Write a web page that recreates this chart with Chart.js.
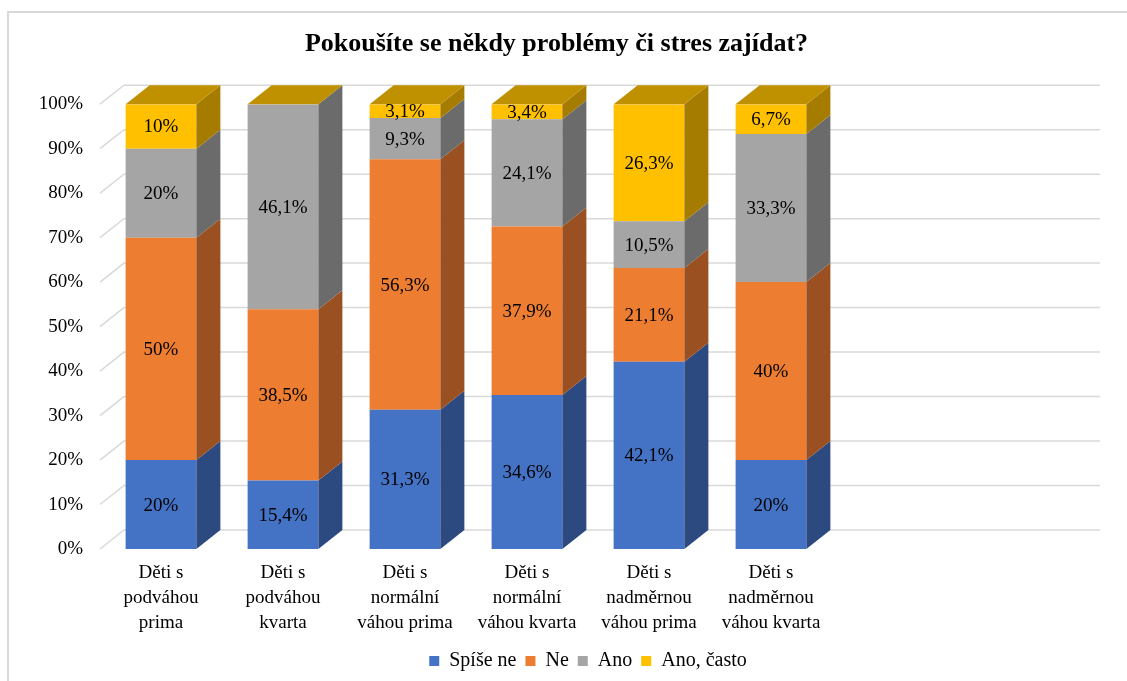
<!DOCTYPE html>
<html lang="cs">
<head>
<meta charset="utf-8">
<title>Pokoušíte se někdy problémy či stres zajídat?</title>
<script src="https://cdn.jsdelivr.net/npm/chart.js@4.4.1/dist/chart.umd.min.js"></script>
<style>
  html, body { margin: 0; padding: 0; background: #fff; }
  #wrap { width: 1127px; height: 681px; position: relative; }
</style>
</head>
<body>
<div id="wrap"><canvas id="stresChart"></canvas></div>
<script>
// two empty slots on the right, like the original Excel sheet
const categories = [
  ['Děti s', 'podváhou', 'prima'],
  ['Děti s', 'podváhou', 'kvarta'],
  ['Děti s', 'normální', 'váhou prima'],
  ['Děti s', 'normální', 'váhou kvarta'],
  ['Děti s', 'nadměrnou', 'váhou prima'],
  ['Děti s', 'nadměrnou', 'váhou kvarta'],
  '', ''
];
const seriesNames = ['Spíše ne', 'Ne', 'Ano', 'Ano, často'];
const spiseNe = [20, 15.4, 31.3, 34.6, 42.1, 20];
const ne = [50, 38.5, 56.3, 37.9, 21.1, 40];
const ano = [20, 46.1, 9.3, 24.1, 10.5, 33.3];
const anoCasto = [10, 0, 3.1, 3.4, 26.3, 6.7];
const yTicks = [0, 10, 20, 30, 40, 50, 60, 70, 80, 90, 100];

const frontColors = ['#4472C4', '#ED7D31', '#A5A5A5', '#FFC000'];
const sideColors = ['#2C4A80', '#9A5020', '#6B6B6B', '#A67C00'];
const topColor = '#BF9000';
const depth = { x: 24, y: -19 };
const serif = 'Liberation Serif, Times New Roman, serif';

const fmt = v => String(v).replace('.', ',') + '%';

const bars3d = {
  id: 'bars3d',
  beforeDraw(chart) {
    const ctx = chart.ctx;
    ctx.save();
    ctx.strokeStyle = '#d9d9d9';
    ctx.lineWidth = 2;
    ctx.beginPath();
    ctx.moveTo(8, chart.height);
    ctx.lineTo(8, 12);
    ctx.lineTo(chart.width, 12);
    ctx.stroke();
    ctx.restore();
  },
  beforeDatasetsDraw(chart) {
    const { ctx, chartArea: a } = chart;
    const y = chart.scales.y;
    ctx.save();
    ctx.strokeStyle = '#d9d9d9';
    ctx.lineWidth = 1.5;
    y.ticks.forEach(t => {
      const py = y.getPixelForValue(t.value);
      ctx.beginPath();
      ctx.moveTo(a.left, py);
      ctx.lineTo(a.left + depth.x, py + depth.y);
      ctx.lineTo(a.right + depth.x, py + depth.y);
      ctx.stroke();
    });
    ctx.restore();
  },
  afterDatasetsDraw(chart) {
    const ctx = chart.ctx;
    const last = chart.data.datasets.length - 1;
    ctx.save();
    chart.data.datasets.forEach((ds, i) => {
      chart.getDatasetMeta(i).data.forEach((bar, j) => {
        if (ds.data[j] == null) return;
        const { x, y, base, width } = bar.getProps(['x', 'y', 'base', 'width'], true);
        const l = x - width / 2, r = x + width / 2;
        ctx.fillStyle = sideColors[i];
        ctx.beginPath();
        ctx.moveTo(r, y);
        ctx.lineTo(r + depth.x, y + depth.y);
        ctx.lineTo(r + depth.x, base + depth.y);
        ctx.lineTo(r, base);
        ctx.closePath();
        ctx.fill();
        if (i === last) {
          ctx.fillStyle = topColor;
          ctx.beginPath();
          ctx.moveTo(l, y);
          ctx.lineTo(l + depth.x, y + depth.y);
          ctx.lineTo(r + depth.x, y + depth.y);
          ctx.lineTo(r, y);
          ctx.closePath();
          ctx.fill();
        }
      });
    });
    // value labels in the middle of each front face
    ctx.font = '19px ' + serif;
    ctx.fillStyle = '#000';
    ctx.textAlign = 'center';
    ctx.textBaseline = 'middle';
    chart.data.datasets.forEach((ds, i) => {
      chart.getDatasetMeta(i).data.forEach((bar, j) => {
        const v = ds.data[j];
        if (!v) return;
        const { x, y, base } = bar.getProps(['x', 'y', 'base'], true);
        ctx.fillText(fmt(v), x, (y + base) / 2 + 1);
      });
    });
    ctx.restore();
  }
};

const seriesData = [spiseNe, ne, ano, anoCasto];

new Chart(document.getElementById('stresChart'), {
  type: 'bar',
  data: {
    labels: categories,
    datasets: seriesNames.map((name, i) => ({
      label: name,
      data: seriesData[i],
      backgroundColor: frontColors[i],
      borderWidth: 0,
      categoryPercentage: 1,
      barPercentage: 0.58
    }))
  },
  plugins: [bars3d],
  options: {
    responsive: true,
    maintainAspectRatio: false,
    animation: false,
    layout: { padding: { left: 37, right: 51, top: 0, bottom: 0 } },
    plugins: {
      title: {
        display: true,
        text: 'Pokoušíte se někdy problémy či stres zajídat?',
        color: '#000',
        font: { family: serif, size: 26, weight: 'bold', lineHeight: 1.2 },
        padding: { top: 29, bottom: 44 }
      },
      legend: {
        position: 'bottom',
        fullSize: false,
        labels: {
          color: '#000',
          font: { family: serif, size: 20 },
          boxWidth: 10,
          boxHeight: 10,
          padding: 9
        }
      },
      tooltip: { enabled: false }
    },
    scales: {
      x: {
        stacked: true,
        grid: { display: false, drawTicks: false },
        border: { display: false },
        ticks: {
          color: '#000',
          font: { family: serif, size: 19, lineHeight: 1.3 },
          maxRotation: 0,
          autoSkip: false,
          padding: 12
        },
        afterFit(scale) { scale.height = 93; }
      },
      y: {
        stacked: true,
        min: 0,
        max: 100,
        grid: { display: false, drawTicks: false },
        border: { display: false },
        afterBuildTicks(scale) { scale.ticks = yTicks.map(v => ({ value: v })); },
        ticks: {
          color: '#000',
          font: { family: serif, size: 19 },
          padding: 17,
          callback: v => v + '%'
        },
        afterFit(scale) { scale.width = 63; }
      }
    }
  }
});
</script>
</body>
</html>
